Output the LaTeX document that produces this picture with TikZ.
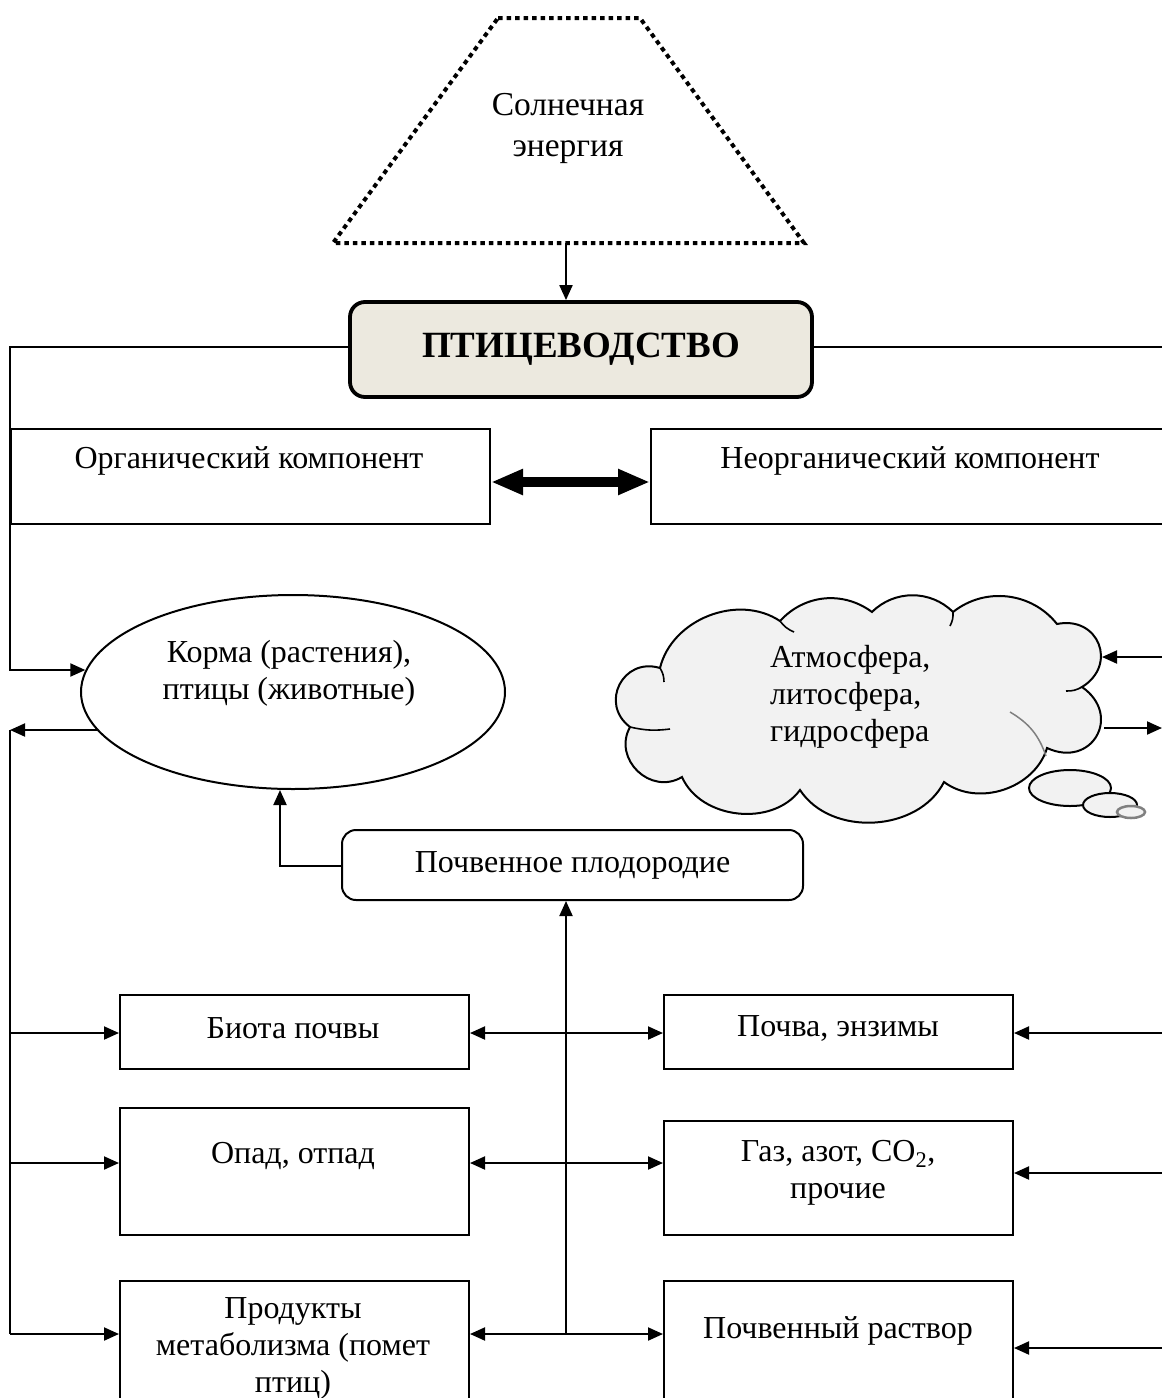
\documentclass[tikz,border=0pt]{standalone}
\usepackage{fontspec}
\setmainfont{Liberation Serif}
\usetikzlibrary{arrows.meta,shapes.geometric}
\definecolor{titlefill}{RGB}{236,233,223}
\definecolor{cloudfill}{RGB}{242,242,242}
\begin{document}
\begin{tikzpicture}[x=1pt,y=-1pt,
  every node/.style={font=\fontsize{32}{37}\selectfont},
  ln/.style={line width=2pt},
  arr/.style={ln,-{Triangle[length=15pt,width=13pt]}},
  darr/.style={ln,{Triangle[length=15pt,width=13pt]}-{Triangle[length=15pt,width=13pt]}},
  box/.style={draw,line width=2pt,rectangle,inner sep=0pt,anchor=north west},
  txt/.style={align=center,inner sep=0pt},
  tick/.style={line width=1.6pt},
]
\useasboundingbox (0,0) rectangle (1162,1398);
\clip (0,0) rectangle (1162,1398);

% solar energy trapezoid
\draw[line width=4pt, dash pattern=on 4.5pt off 4pt] (498,18) -- (640,18) -- (804,243) -- (333,243) -- cycle;
\node[txt, font=\fontsize{33.5}{41}\selectfont] (sun) at (568,128) {Солнечная\\энергия};
\coordinate (sunb) at (566,243);

% title
\node[draw, line width=3.8pt, rounded corners=15pt, fill=titlefill, minimum width=462pt, minimum height=95pt, inner sep=0pt,
  font=\fontsize{37}{40}\selectfont\bfseries] (title) at (581,349.5) {ПТИЦЕВОДСТВО};
\draw[arr] (sunb) -- (sunb |- title.north);

% components
\node[box, minimum width=479pt, minimum height=95pt] (org) at (10,428) {};
\node[txt] (orgt) at (249,461) {Органический компонент};
\node[box, minimum width=530pt, minimum height=95pt] (inorg) at (650,428) {};
\node[txt] (inorgt) at (910,461) {Неорганический компонент};
\draw[line width=10pt, {Triangle[length=32pt,width=24pt]}-{Triangle[length=32pt,width=24pt]}]
  (org.east |- 0,482) -- (inorg.west |- 0,482);

% feed ellipse
\node[draw, ellipse, line width=2pt, minimum width=424pt, minimum height=194pt, inner sep=0pt] (feed) at (293,692) {};
\node[txt] (feedt) at (289,673) {Корма (растения),\\ птицы (животные)};

\coordinate (LT) at (10,347);
\coordinate (LB) at (10,730);
\draw[arr] (title.west |- LT) -- (LT) -- (10,670) -- (feed.174 |- 0,670);
\draw[arr] (feed.191 |- LB) -- (LB);
\draw[ln] (title.east |- LT) -- (1175,347);

% cloud
\coordinate (P1) at (660,668);
\coordinate (P2) at (780,621);
\coordinate (P3) at (872,612);
\coordinate (P4) at (953,612);
\coordinate (P5) at (1057,624);
\coordinate (P6) at (1082,687);
\coordinate (P7) at (1047,748);
\coordinate (P8) at (944,782);
\coordinate (P9) at (800,790);
\coordinate (P10) at (682,777);
\coordinate (P11) at (630,727);
\draw[ln, fill=cloudfill] (P1) to[bend left=55] (P2)
  to[bend left=42] (P3)
  to[bend left=45] (P4)
  to[bend left=45] (P5)
  to[bend left=80, looseness=1.6] (P6)
  to[bend left=85, looseness=1.8] (P7)
  to[bend left=55] (P8)
  to[bend left=60] (P9)
  to[bend left=60] (P10)
  to[bend left=75, looseness=1.3] (P11)
  to[bend left=80, looseness=1.5] (P1) -- cycle;
\draw[tick] (P1) to[bend left=15] (664,682);
\draw[tick] (P2) to[bend right=15] (794,632);
\draw[tick] (P4) to[bend left=15] (950,626);
\draw[tick] (P6) to[bend left=15] (1066,691);
\draw[tick] (P11) to[bend right=10] (670,729);
\draw[gray, line width=1.5pt] (1010,712) to[bend left=20] (1046,756);
\node[align=left, anchor=west, inner sep=0pt] (cloudt) at (770,697) {Атмосфера,\\литосфера,\\гидросфера};
\draw[ln, fill=cloudfill] (1070,788) ellipse [x radius=41pt, y radius=18pt];
\draw[ln, fill=cloudfill] (1110,805) ellipse [x radius=27pt, y radius=12pt];
\draw[line width=2.5pt, draw=gray, fill=cloudfill] (1131,812) ellipse [x radius=14pt, y radius=6pt];
\coordinate (cin) at (1102,657);
\coordinate (cout) at (1104,728);
\draw[arr] (1175,657) -- (cin);
\draw[arr] (cout) -- (1162,728);

% soil fertility
\node[draw, rounded corners=14pt, line width=2pt, minimum width=461pt, minimum height=70pt, inner sep=0pt] (pochv) at (572.5,865) {Почвенное плодородие};
\draw[arr] (pochv.west |- 0,866) -- (280,866) -- (280,0 |- feed.south);

% left column
\node[box, minimum width=349pt, minimum height=74pt] (biota) at (119,994) {};
\node[txt] (biotat) at (293,1028) {Биота почвы};
\node[box, minimum width=349pt, minimum height=127pt] (opad) at (119,1107) {};
\node[txt] (opadt) at (293,1156) {Опад, отпад};
\node[box, minimum width=349pt, minimum height=150pt] (prod) at (119,1280) {};
\node[txt] (prodt) at (293,1348) {Продукты\\метаболизма (помет\\птиц)};

% right column
\node[box, minimum width=349pt, minimum height=74pt] (soil) at (663,994) {};
\node[txt] (soilt) at (838,1028) {Почва, энзимы};
\node[box, minimum width=349pt, minimum height=114pt] (gas) at (663,1120) {};
\node[txt] (gast) at (838,1173) {Газ, азот, CO\textsubscript{2},\\прочие};
\node[box, minimum width=349pt, minimum height=150pt] (rast) at (663,1280) {};
\node[txt] (rastt) at (838,1331) {Почвенный раствор};

% left trunk
\draw[ln] (LB) -- (10,1334);
\draw[arr] (LB |- 0,1033) -- (biota.west |- 0,1033);
\draw[arr] (LB |- 0,1163) -- (opad.west |- 0,1163);
\draw[arr] (LB |- 0,1334) -- (prod.west |- 0,1334);

% central trunk
\draw[arr] (566,1334) -- (566,0 |- pochv.south);
\draw[darr] (biota.east |- 0,1033) -- (soil.west |- 0,1033);
\draw[darr] (opad.east |- 0,1163) -- (gas.west |- 0,1163);
\draw[darr] (prod.east |- 0,1334) -- (rast.west |- 0,1334);

% right inputs
\draw[arr] (1175,1033) -- (soil.east |- 0,1033);
\draw[arr] (1175,1173) -- (gas.east |- 0,1173);
\draw[arr] (1175,1348) -- (rast.east |- 0,1348);
\end{tikzpicture}
\end{document}
